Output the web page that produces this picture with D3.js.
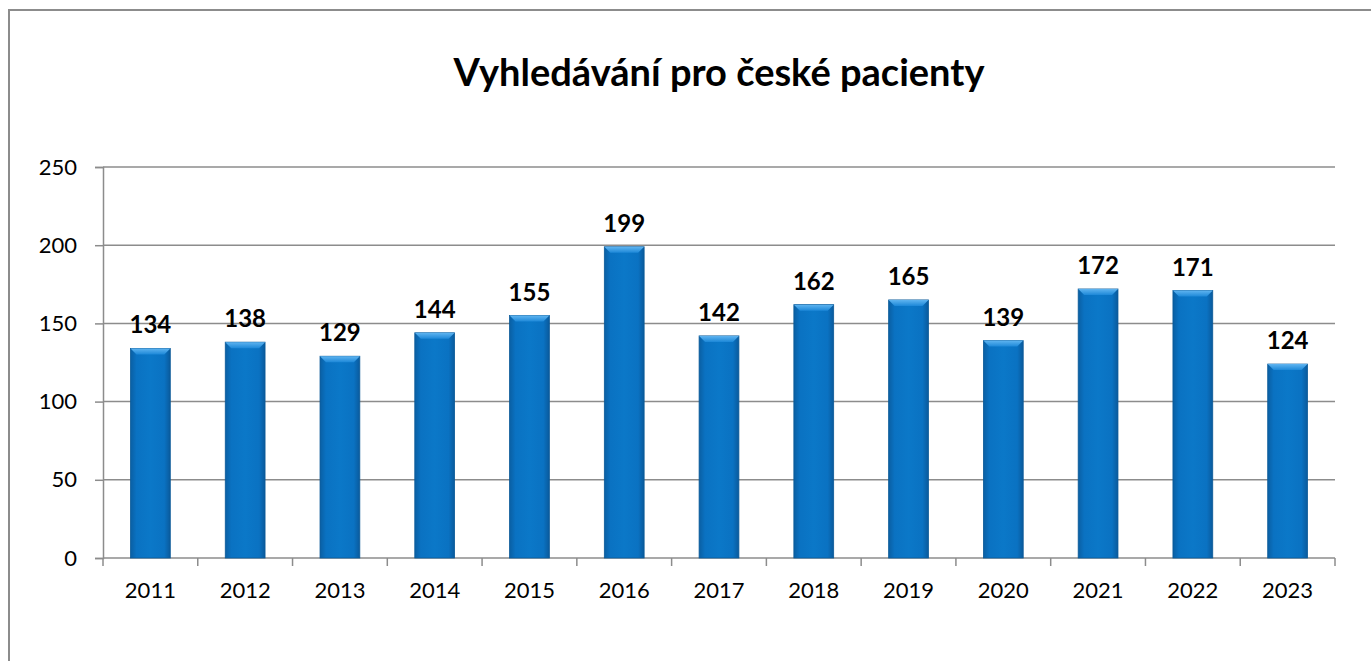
<!DOCTYPE html>
<html>
<head>
<meta charset="utf-8">
<script src="https://cdn.jsdelivr.net/npm/d3@7"></script>
<style>
  body { margin: 0; background: #fff; }
  text { font-family: Lato, "Open Sans", sans-serif; }
</style>
</head>
<body>
<script>
var years = ["2011","2012","2013","2014","2015","2016","2017","2018","2019","2020","2021","2022","2023"];
var counts = [134, 138, 129, 144, 155, 199, 142, 162, 165, 139, 172, 171, 124];
var yTicks = [0, 50, 100, 150, 200, 250];
var chartTitle = "Vyhledávání pro české pacienty";

var W = 1371, H = 661;
var plotLeft = 103, plotRight = 1335, plotTop = 167, plotBottom = 558;

var svg = d3.select("body").append("svg")
  .attr("width", W)
  .attr("height", H);

// outer frame (runs off the right/bottom edge like the screenshot)
svg.append("rect")
  .attr("x", 9).attr("y", 10)
  .attr("width", 1500).attr("height", 800)
  .attr("fill", "none")
  .attr("stroke", "#8c8c8c")
  .attr("stroke-width", 2);

var defs = svg.append("defs");
var grad = defs.append("linearGradient").attr("id", "barGrad")
  .attr("x1", "0").attr("x2", "1").attr("y1", "0").attr("y2", "0");
grad.append("stop").attr("offset", "0%").attr("stop-color", "#0a5fa3");
grad.append("stop").attr("offset", "15%").attr("stop-color", "#0a72c2");
grad.append("stop").attr("offset", "50%").attr("stop-color", "#0b78c8");
grad.append("stop").attr("offset", "85%").attr("stop-color", "#0a72c2");
grad.append("stop").attr("offset", "100%").attr("stop-color", "#0a5a9c");

var topGrad = defs.append("linearGradient").attr("id", "topGrad")
  .attr("x1", "0").attr("x2", "0").attr("y1", "0").attr("y2", "1");
topGrad.append("stop").attr("offset", "0%").attr("stop-color", "#5fb4f0");
topGrad.append("stop").attr("offset", "100%").attr("stop-color", "#1d88d8");

var x = d3.scaleBand().domain(years).range([plotLeft, plotRight]).paddingInner(0.58).paddingOuter(0.29);
var xEdge = d3.scaleBand().domain(years).range([plotLeft, plotRight]);
var y = d3.scaleLinear().domain([0, 250]).range([plotBottom, plotTop]);

// gridlines
svg.append("g").selectAll("line")
  .data(yTicks.filter(function (d) { return d > 0; }))
  .enter().append("line")
  .attr("x1", plotLeft).attr("x2", plotRight)
  .attr("y1", function (d) { return y(d); })
  .attr("y2", function (d) { return y(d); })
  .attr("stroke", "#8c8c8c")
  .attr("stroke-width", 1.5);

// y axis
var yAxis = svg.append("g")
  .attr("transform", "translate(" + plotLeft + ",0)")
  .call(d3.axisLeft(y).tickValues(yTicks).tickSize(8).tickPadding(18));
yAxis.select(".domain").attr("stroke", "#8c8c8c").attr("stroke-width", 1.5);
yAxis.selectAll(".tick line").attr("stroke", "#8c8c8c").attr("stroke-width", 1.5);
yAxis.selectAll("text").attr("font-size", 22).attr("fill", "#000")
  .style("font-family", "Lato, 'Open Sans', sans-serif");

// x axis with ticks at category boundaries
var xg = svg.append("g").attr("transform", "translate(0," + plotBottom + ")");
xg.append("line").attr("x1", plotLeft).attr("x2", plotRight)
  .attr("stroke", "#8c8c8c").attr("stroke-width", 1.5);
xg.selectAll(".bt").data(years.concat(["end"]))
  .enter().append("line")
  .attr("x1", function (d, i) { return plotLeft + i * xEdge.step(); })
  .attr("x2", function (d, i) { return plotLeft + i * xEdge.step(); })
  .attr("y1", 0).attr("y2", 8)
  .attr("stroke", "#8c8c8c").attr("stroke-width", 1.5);
xg.selectAll(".lbl").data(years)
  .enter().append("text")
  .attr("x", function (d) { return x(d) + x.bandwidth() / 2; })
  .attr("y", 40)
  .attr("text-anchor", "middle")
  .attr("font-size", 22)
  .text(function (d) { return d; });

// bars
var bars = svg.append("g").selectAll("g")
  .data(counts)
  .enter().append("g");

bars.append("rect")
  .attr("x", function (d, i) { return x(years[i]); })
  .attr("y", function (d) { return y(d); })
  .attr("width", x.bandwidth())
  .attr("height", function (d) { return plotBottom - y(d); })
  .attr("fill", "url(#barGrad)")
  .attr("stroke", "#0b5a98")
  .attr("stroke-width", 0.8);

bars.append("path")
  .attr("d", function (d, i) {
    var x0 = x(years[i]), w = x.bandwidth(), t = y(d), b = 6;
    return "M" + x0 + "," + t + "L" + (x0 + w) + "," + t +
      "L" + (x0 + w - b) + "," + (t + b) + "L" + (x0 + b) + "," + (t + b) + "Z";
  })
  .attr("fill", "url(#topGrad)");

// value labels
svg.append("g").selectAll("text")
  .data(counts)
  .enter().append("text")
  .attr("x", function (d, i) { return x(years[i]) + x.bandwidth() / 2; })
  .attr("y", function (d) { return y(d) - 15; })
  .attr("text-anchor", "middle")
  .attr("font-size", 24)
  .attr("font-weight", "bold")
  .text(function (d) { return d; });

// title
svg.append("text")
  .attr("x", (plotLeft + plotRight) / 2)
  .attr("y", 86)
  .attr("text-anchor", "middle")
  .attr("font-size", 38)
  .attr("font-weight", "bold")
  .text(chartTitle);
</script>
</body>
</html>
